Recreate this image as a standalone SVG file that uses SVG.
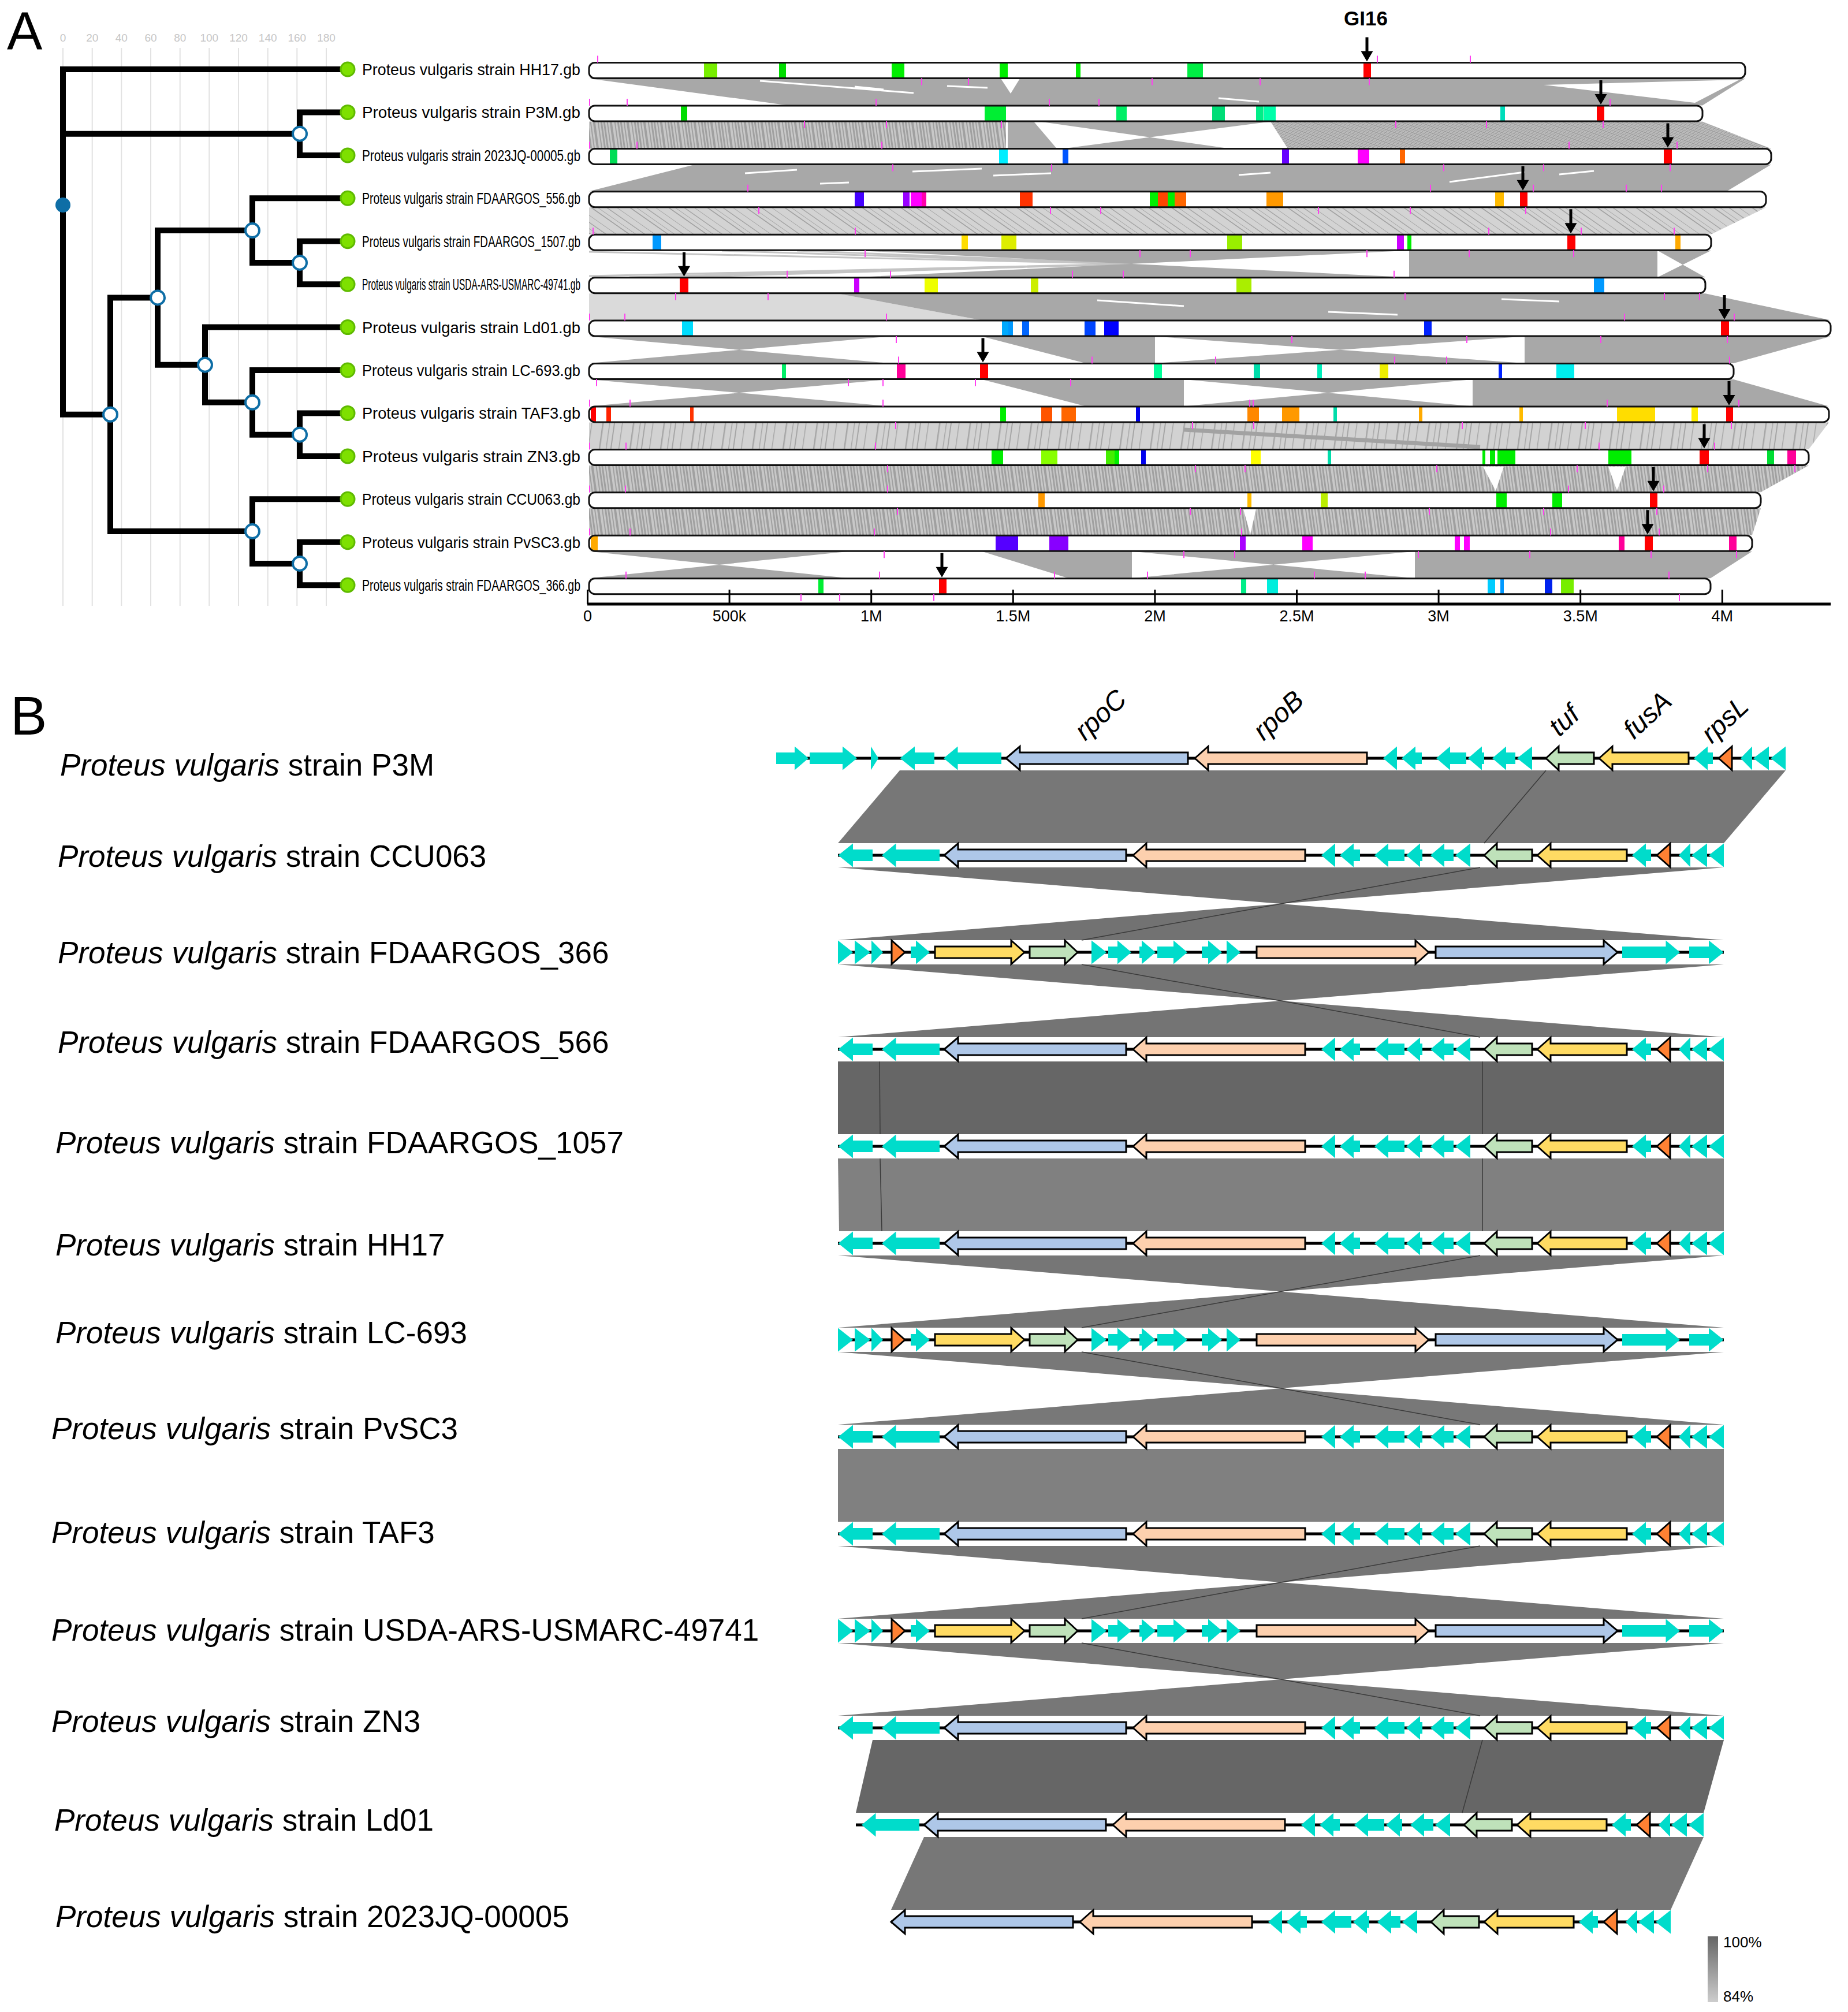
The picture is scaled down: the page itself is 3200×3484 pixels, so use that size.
<svg xmlns="http://www.w3.org/2000/svg" xmlns:xlink="http://www.w3.org/1999/xlink" width="3200" height="3484" viewBox="0 0 3200 3484">
<defs>
<style>
text{font-family:"Liberation Sans",Arial,sans-serif;fill:#000}
.grid{stroke:#e2e2e2;stroke-width:2}
.tl{font-size:19px;fill:#c6c6c6;text-anchor:middle}
.tree{stroke:#000;stroke-width:10;fill:none;stroke-linecap:square}
.inode{fill:#fff;stroke:#0e6ea6;stroke-width:4}
.leaf{fill:#7ee000;stroke:#5fba00;stroke-width:3}
.lab{font-size:28px}
.barf{fill:#fff}
.bars{fill:none;stroke:#111;stroke-width:3}
.mt{stroke:#ff40f0;stroke-width:2;fill:none}
.sd{fill:#a8a8a8}
.sl{fill:#dadada}
.ws{stroke:#fff;stroke-width:3;fill:none}
.ax{font-size:27px;text-anchor:middle}
.bb{stroke:#000;stroke-width:5}
.cy{fill:#00dccb}
.rc{fill:#aec7e8;stroke:#000;stroke-width:3}
.rb{fill:#fdd0ae;stroke:#000;stroke-width:3}
.tf{fill:#bfe2ba;stroke:#000;stroke-width:3}
.fa{fill:#ffdb63;stroke:#000;stroke-width:3}
.rl{fill:#ff8133;stroke:#000;stroke-width:3}
.bl{font-size:53px}
.gl{font-size:47px;font-style:italic}
.il{stroke:#3a3a3a;stroke-width:1.5}
</style>
<pattern id="pv" width="29" height="50" patternUnits="userSpaceOnUse" patternTransform="skewX(8)">
<rect width="29" height="50" fill="#c8c8c8"/>
<rect x="0" width="3" height="50" fill="#a0a0a0"/>
<rect x="6" width="2" height="50" fill="#a0a0a0"/>
<rect x="11" width="4" height="50" fill="#a0a0a0"/>
<rect x="19" width="2" height="50" fill="#a0a0a0"/>
<rect x="24" width="3" height="50" fill="#a0a0a0"/>
</pattern>
<pattern id="pd" width="31" height="50" patternUnits="userSpaceOnUse" patternTransform="skewX(70)">
<rect width="31" height="50" fill="#bcbcbc"/>
<rect x="0" width="3" height="50" fill="#9c9c9c"/>
<rect x="8" width="2" height="50" fill="#9c9c9c"/>
<rect x="15" width="4" height="50" fill="#9c9c9c"/>
<rect x="24" width="2" height="50" fill="#9c9c9c"/>
</pattern>
<pattern id="pl" width="67" height="50" patternUnits="userSpaceOnUse" patternTransform="skewX(55)">
<rect width="67" height="50" fill="#d3d3d3"/>
<rect x="0" width="2.5" height="50" fill="#a4a4a4"/>
<rect x="18" width="1.5" height="50" fill="#a4a4a4"/>
<rect x="40" width="3" height="50" fill="#a4a4a4"/>
<rect x="52" width="1.5" height="50" fill="#a4a4a4"/>
</pattern>
<pattern id="pl2" width="53" height="50" patternUnits="userSpaceOnUse" patternTransform="skewX(-8)">
<rect width="53" height="50" fill="#d2d2d2"/>
<rect x="0" width="2" height="50" fill="#a6a6a6"/>
<rect x="14" width="1.5" height="50" fill="#a6a6a6"/>
<rect x="33" width="2.5" height="50" fill="#a6a6a6"/>
<rect x="45" width="1.5" height="50" fill="#a6a6a6"/>
</pattern>
<linearGradient id="lg" x1="0" y1="0" x2="0" y2="1">
<stop offset="0" stop-color="#666"/>
<stop offset="1" stop-color="#cdcdcd"/>
</linearGradient>
<path id="da" d="M-2.5,0H2.5V24H10.5L0,42L-10.5,24H-2.5Z" fill="#000"/>
<g id="coreA">
<polygon class="rc" points="1635,0 1659,-20.5 1659,-10 1950,-10 1950,10 1659,10 1659,20.5"/>
<polygon class="rb" points="1962,0 1985,-20.5 1985,-10 2260,-10 2260,10 1985,10 1985,20.5"/>
<polygon class="cy" points="2288,0 2312,-20.5 2312,20.5"/>
<polygon class="cy" points="2320,0 2344,-20.5 2344,-10 2355,-10 2355,10 2344,10 2344,20.5"/>
<polygon class="cy" points="2380,0 2404,-20.5 2404,-10 2432,-10 2432,10 2404,10 2404,20.5"/>
<polygon class="cy" points="2435,0 2459,-20.5 2459,-10 2463,-10 2463,10 2459,10 2459,20.5"/>
<polygon class="cy" points="2477,0 2501,-20.5 2501,-10 2517,-10 2517,10 2501,10 2501,20.5"/>
<polygon class="cy" points="2520,0 2546,-20.5 2546,20.5"/>
<polygon class="tf" points="2570,0 2592,-20.5 2592,-10 2653,-10 2653,10 2592,10 2592,20.5"/>
<polygon class="fa" points="2662,0 2685,-20.5 2685,-10 2817,-10 2817,10 2685,10 2685,20.5"/>
<polygon class="cy" points="2826,0 2850,-20.5 2850,-10 2859,-10 2859,10 2850,10 2850,20.5"/>
<polygon class="rl" points="2869,0 2892,-20.5 2892,20.5"/>
<polygon class="cy" points="2907,0 2927,-20.5 2927,20.5"/>
<polygon class="cy" points="2929,0 2956,-20.5 2956,20.5"/>
<polygon class="cy" points="2959,0 2985,-20.5 2985,20.5"/>
</g>
<g id="genesA">
<polygon class="cy" points="1451.5,0 1477,-20.5 1477,-10 1511,-10 1511,10 1477,10 1477,20.5"/>
<polygon class="cy" points="1527,0 1551.5,-20.5 1551.5,-10 1627,-10 1627,10 1551.5,10 1551.5,20.5"/>
<use href="#coreA"/>
</g>
<g id="rowA">
<line class="bb" x1="1451" y1="0" x2="2985" y2="0"/>
<use href="#genesA"/>
</g>
</defs>
<rect width="3200" height="3484" fill="#fff"/>

<!-- Panel A -->
<text x="12" y="86" font-size="92">A</text>
<g id="tree-scale">
<path class="grid" d="M109,83V1049M159.7,83V1049M210.3,83V1049M261,83V1049M311.7,83V1049M362.3,83V1049M413,83V1049M463.7,83V1049M514.3,83V1049M565,83V1049"/>
<text class="tl" x="109" y="72">0</text><text class="tl" x="159.7" y="72">20</text><text class="tl" x="210.3" y="72">40</text><text class="tl" x="261" y="72">60</text><text class="tl" x="311.7" y="72">80</text><text class="tl" x="362.3" y="72">100</text><text class="tl" x="413" y="72">120</text><text class="tl" x="463.7" y="72">140</text><text class="tl" x="514.3" y="72">160</text><text class="tl" x="565" y="72">180</text>
</g>
<g id="tree">
<path class="tree" d="M109,120V717.75M109,120H602M109,231.65H519M109,717.75H191M519,194.4V268.9M519,194.4H602M519,268.9H602M191,515.4V920.1M191,515.4H273M191,920.1H437M273,399.1V631.7M273,399.1H437M273,631.7H355M437,343.3V454.95M437,343.3H602M437,454.95H519M519,417.7V492.2M519,417.7H602M519,492.2H602M355,566.6V696.8M355,566.6H602M355,696.8H437M437,641V752.65M437,641H602M437,752.65H519M519,715.4V789.9M519,715.4H602M519,789.9H602M437,864.3V975.95M437,864.3H602M437,975.95H519M519,938.7V1013.2M519,938.7H602M519,1013.2H602"/>
<circle cx="109" cy="355" r="13" fill="#0e6ea6"/>
<circle class="inode" cx="519" cy="231.65" r="12"/>
<circle class="inode" cx="191" cy="717.75" r="12"/>
<circle class="inode" cx="273" cy="515.4" r="12"/>
<circle class="inode" cx="437" cy="399.1" r="12"/>
<circle class="inode" cx="519" cy="454.95" r="12"/>
<circle class="inode" cx="355" cy="631.7" r="12"/>
<circle class="inode" cx="437" cy="696.8" r="12"/>
<circle class="inode" cx="519" cy="752.65" r="12"/>
<circle class="inode" cx="437" cy="920.1" r="12"/>
<circle class="inode" cx="519" cy="975.95" r="12"/>
</g>
<g id="leaves">
<circle class="leaf" cx="602" cy="120" r="12"/>
<circle class="leaf" cx="602" cy="194.4" r="12"/>
<circle class="leaf" cx="602" cy="268.9" r="12"/>
<circle class="leaf" cx="602" cy="343.3" r="12"/>
<circle class="leaf" cx="602" cy="417.7" r="12"/>
<circle class="leaf" cx="602" cy="492.2" r="12"/>
<circle class="leaf" cx="602" cy="566.6" r="12"/>
<circle class="leaf" cx="602" cy="641" r="12"/>
<circle class="leaf" cx="602" cy="715.4" r="12"/>
<circle class="leaf" cx="602" cy="789.9" r="12"/>
<circle class="leaf" cx="602" cy="864.3" r="12"/>
<circle class="leaf" cx="602" cy="938.7" r="12"/>
<circle class="leaf" cx="602" cy="1013.2" r="12"/>
<text class="lab" x="627" y="130" textLength="378" lengthAdjust="spacingAndGlyphs">Proteus vulgaris strain HH17.gb</text>
<text class="lab" x="627" y="204.4" textLength="378" lengthAdjust="spacingAndGlyphs">Proteus vulgaris strain P3M.gb</text>
<text class="lab" x="627" y="278.9" textLength="378" lengthAdjust="spacingAndGlyphs">Proteus vulgaris strain 2023JQ-00005.gb</text>
<text class="lab" x="627" y="353.3" textLength="378" lengthAdjust="spacingAndGlyphs">Proteus vulgaris strain FDAARGOS_556.gb</text>
<text class="lab" x="627" y="427.7" textLength="378" lengthAdjust="spacingAndGlyphs">Proteus vulgaris strain FDAARGOS_1507.gb</text>
<text class="lab" x="627" y="502.2" textLength="378" lengthAdjust="spacingAndGlyphs">Proteus vulgaris strain USDA-ARS-USMARC-49741.gb</text>
<text class="lab" x="627" y="576.6" textLength="378" lengthAdjust="spacingAndGlyphs">Proteus vulgaris strain Ld01.gb</text>
<text class="lab" x="627" y="651" textLength="378" lengthAdjust="spacingAndGlyphs">Proteus vulgaris strain LC-693.gb</text>
<text class="lab" x="627" y="725.4" textLength="378" lengthAdjust="spacingAndGlyphs">Proteus vulgaris strain TAF3.gb</text>
<text class="lab" x="627" y="799.9" textLength="378" lengthAdjust="spacingAndGlyphs">Proteus vulgaris strain ZN3.gb</text>
<text class="lab" x="627" y="874.3" textLength="378" lengthAdjust="spacingAndGlyphs">Proteus vulgaris strain CCU063.gb</text>
<text class="lab" x="627" y="948.7" textLength="378" lengthAdjust="spacingAndGlyphs">Proteus vulgaris strain PvSC3.gb</text>
<text class="lab" x="627" y="1023.2" textLength="378" lengthAdjust="spacingAndGlyphs">Proteus vulgaris strain FDAARGOS_366.gb</text>
</g>

<g id="synteny">
<polygon class="sd" points="1020,136 3022,136 2948,182.4 1365,182.4"/>
<polygon fill="#fff" points="2673,147 3012,138 2935,178"/>
<polygon fill="#fff" points="1733,136 1766,136 1750,162"/>
<path class="ws" d="M1316,140L1582,161M1640,149L1710,152M2110,170L2180,176M1480,150L1530,155"/>
<polygon fill="url(#pv)" points="1020,210.4 1742,210.4 1742,257.4 1020,257.4"/>
<polygon fill="#ababab" points="1745,210.4 1790,210.4 1830,257.4 1745,257.4"/>
<polygon fill="#ababab" points="1800,210.4 2200,210.4 1840,257.4 2130,257.4"/>
<polygon fill="url(#pd)" points="2200,210.4 2948,210.4 3067,257.4 2230,257.4"/>
<polygon class="sd" points="1203,284.9 3067,284.9 2990,331.3 1020,331.3"/>
<path class="ws" d="M1290,300L1380,294M1580,297L1700,292M1720,304L1820,300M2145,303L2200,299M2510,315L2640,298M2700,302L2760,296M1420,318L1470,316"/>
<polygon fill="url(#pl)" points="1020,359.3 3058,359.3 2963,405.7 1020,405.7"/>
<path stroke="#c4c4c4" stroke-width="3" d="M1020,478L1960,457M1090,480L1960,457M1180,480L1960,457M1250,434L1960,457M1380,434L1960,457M1020,436L1960,457"/>
<polygon class="sd" points="1480,433.7 2440,433.7 1480,480.2 2440,480.2"/>
<polygon class="sd" points="2440,433.7 2870,433.7 2870,480.2 2440,480.2"/>
<polygon class="sd" points="2870,433.7 2963,433.7 2870,480.2 2953,480.2"/>
<polygon class="sl" points="1020,508.2 1450,508.2 1700,554.6 1020,554.6"/>
<polygon class="sd" points="1450,508.2 2953,508.2 3170,554.6 1700,554.6"/>
<path class="ws" d="M1900,520L2050,530M2300,540L2420,545M2600,518L2700,522"/>
<polygon class="sd" points="1020,582.6 1540,582.6 1020,629 1540,629"/>
<polygon class="sd" points="1700,582.6 2000,582.6 2000,629 1880,629"/>
<polygon class="sd" points="2000,582.6 2640,582.6 2000,629 2640,629"/>
<polygon class="sd" points="2640,582.6 3170,582.6 3002,629 2640,629"/>
<polygon class="sd" points="1020,657 1540,657 1020,703.4 1540,703.4"/>
<polygon class="sd" points="1700,657 2050,657 2050,703.4 1880,703.4"/>
<polygon class="sd" points="2050,657 2550,657 2050,703.4 2550,703.4"/>
<polygon class="sd" points="2550,657 3002,657 3167,703.4 2550,703.4"/>
<polygon fill="url(#pl2)" points="1020,731.4 3167,731.4 3132,777.9 1020,777.9"/>
<path stroke="#a2a2a2" stroke-width="7" d="M2050,744L2563,774"/>
<polygon fill="url(#pv)" points="1020,805.9 3132,805.9 3049,852.3 1020,852.3"/>
<polygon fill="#fff" points="2568,808 2604,808 2590,850"/>
<polygon fill="#fff" points="2785,808 2815,808 2800,850"/>
<polygon fill="url(#pv)" points="1020,880.3 3049,880.3 3034,926.7 1020,926.7"/>
<polygon fill="#fff" points="2153,882 2175,882 2165,925"/>
<polygon class="sd" points="1020,954.7 1470,954.7 1020,1001.2 1470,1001.2"/>
<polygon class="sd" points="1700,954.7 1960,954.7 1960,1001.2 1850,1001.2"/>
<polygon class="sd" points="1960,954.7 2450,954.7 1960,1001.2 2450,1001.2"/>
<polygon class="sd" points="2450,954.7 3034,954.7 2962,1001.2 2450,1001.2"/>
</g>

<g id="g-HH17">
<rect class="barf" x="1020" y="108.5" width="2002" height="27" rx="10"/>
<g transform="translate(0,109)"><rect x="1219" width="23" height="26" fill="#77ee00"/><rect x="1349" width="12" height="26" fill="#00dd00"/><rect x="1544" width="22" height="26" fill="#00ee00"/><rect x="1731" width="14" height="26" fill="#00ee00"/><rect x="1863" width="8" height="26" fill="#00ee00"/><rect x="2056" width="27" height="26" fill="#00ee44"/><rect x="2361" width="13" height="26" fill="#ff0000"/></g>
<rect class="bars" x="1020" y="108.5" width="2002" height="27" rx="10"/>
</g>
<g id="g-P3M">
<rect class="barf" x="1020" y="182.9" width="1928" height="27" rx="10"/>
<g transform="translate(0,183.4)"><rect x="1179" width="11" height="26" fill="#00dd00"/><rect x="1705" width="37" height="26" fill="#00ee33"/><rect x="1933" width="18" height="26" fill="#00ee66"/><rect x="2099" width="22" height="26" fill="#00dd77"/><rect x="2175" width="13" height="26" fill="#00ee88"/><rect x="2189" width="20" height="26" fill="#00ffaa"/><rect x="2598" width="8" height="26" fill="#00ddbb"/><rect x="2765" width="13" height="26" fill="#ff0000"/></g>
<rect class="bars" x="1020" y="182.9" width="1928" height="27" rx="10"/>
</g>
<g id="g-2023JQ">
<rect class="barf" x="1020" y="257.4" width="2047" height="27" rx="10"/>
<g transform="translate(0,257.9)"><rect x="1056" width="13" height="26" fill="#00dd55"/><rect x="1730" width="15" height="26" fill="#00eeff"/><rect x="1840" width="10" height="26" fill="#0055ff"/><rect x="2220" width="12" height="26" fill="#6600ff"/><rect x="2351" width="20" height="26" fill="#ff00ff"/><rect x="2424" width="9" height="26" fill="#ff6600"/><rect x="2881" width="14" height="26" fill="#ff0000"/></g>
<rect class="bars" x="1020" y="257.4" width="2047" height="27" rx="10"/>
</g>
<g id="g-556">
<rect class="barf" x="1020" y="331.8" width="2038" height="27" rx="10"/>
<g transform="translate(0,332.3)"><rect x="1480" width="16" height="26" fill="#4400ff"/><rect x="1564" width="11" height="26" fill="#9900ff"/><rect x="1577" width="19" height="26" fill="#ff00ff"/><rect x="1596" width="8" height="26" fill="#ff00aa"/><rect x="1766" width="22" height="26" fill="#ff3300"/><rect x="1991" width="14" height="26" fill="#00ee00"/><rect x="2005" width="17" height="26" fill="#ff4400"/><rect x="2022" width="12" height="26" fill="#00ee00"/><rect x="2034" width="20" height="26" fill="#ff6600"/><rect x="2193" width="29" height="26" fill="#ff9900"/><rect x="2589" width="15" height="26" fill="#ffbb00"/><rect x="2632" width="13" height="26" fill="#ff0000"/></g>
<rect class="bars" x="1020" y="331.8" width="2038" height="27" rx="10"/>
</g>
<g id="g-1507">
<rect class="barf" x="1020" y="406.2" width="1943" height="27" rx="10"/>
<g transform="translate(0,406.7)"><rect x="1130" width="15" height="26" fill="#0099ff"/><rect x="1665" width="11" height="26" fill="#ffdd00"/><rect x="1734" width="26" height="26" fill="#ddee00"/><rect x="2125" width="26" height="26" fill="#99ee00"/><rect x="2419" width="12" height="26" fill="#cc00ff"/><rect x="2437" width="7" height="26" fill="#00ee00"/><rect x="2714" width="14" height="26" fill="#ff0000"/><rect x="2901" width="9" height="26" fill="#ffaa00"/></g>
<rect class="bars" x="1020" y="406.2" width="1943" height="27" rx="10"/>
</g>
<g id="g-USDA">
<rect class="barf" x="1020" y="480.7" width="1933" height="27" rx="10"/>
<g transform="translate(0,481.2)"><rect x="1177" width="15" height="26" fill="#ff0000"/><rect x="1479" width="9" height="26" fill="#cc00ff"/><rect x="1601" width="23" height="26" fill="#eeff00"/><rect x="1785" width="13" height="26" fill="#ccee00"/><rect x="2141" width="26" height="26" fill="#aaee00"/><rect x="2760" width="18" height="26" fill="#0099ff"/></g>
<rect class="bars" x="1020" y="480.7" width="1933" height="27" rx="10"/>
</g>
<g id="g-Ld01">
<rect class="barf" x="1020" y="555.1" width="2150" height="27" rx="10"/>
<g transform="translate(0,555.6)"><rect x="1181" width="19" height="26" fill="#00ddff"/><rect x="1735" width="11" height="26" fill="#00aaff"/><rect x="1746" width="8" height="26" fill="#0099ff"/><rect x="1770" width="12" height="26" fill="#0066ff"/><rect x="1878" width="19" height="26" fill="#0044ff"/><rect x="1912" width="25" height="26" fill="#0000ff"/><rect x="2466" width="13" height="26" fill="#0022ff"/><rect x="2980" width="14" height="26" fill="#ff0000"/></g>
<rect class="bars" x="1020" y="555.1" width="2150" height="27" rx="10"/>
</g>
<g id="g-LC693">
<rect class="barf" x="1020" y="629.5" width="1982" height="27" rx="10"/>
<g transform="translate(0,630)"><rect x="1354" width="7" height="26" fill="#00ee66"/><rect x="1553" width="15" height="26" fill="#ff0099"/><rect x="1697" width="14" height="26" fill="#ff0000"/><rect x="1998" width="14" height="26" fill="#00ff99"/><rect x="2171" width="11" height="26" fill="#00ddaa"/><rect x="2281" width="8" height="26" fill="#00eebb"/><rect x="2389" width="15" height="26" fill="#eeee00"/><rect x="2595" width="6" height="26" fill="#0022ff"/><rect x="2695" width="31" height="26" fill="#00eeee"/></g>
<rect class="bars" x="1020" y="629.5" width="1982" height="27" rx="10"/>
</g>
<g id="g-TAF3">
<rect class="barf" x="1020" y="703.9" width="2147" height="27" rx="10"/>
<g transform="translate(0,704.4)"><rect x="1023" width="9" height="26" fill="#ff0000"/><rect x="1050" width="8" height="26" fill="#ff2200"/><rect x="1195" width="6" height="26" fill="#ff3300"/><rect x="1732" width="10" height="26" fill="#00ee00"/><rect x="1803" width="19" height="26" fill="#ff5500"/><rect x="1838" width="25" height="26" fill="#ff6600"/><rect x="1967" width="7" height="26" fill="#0000ee"/><rect x="2160" width="20" height="26" fill="#ff8800"/><rect x="2220" width="30" height="26" fill="#ff9900"/><rect x="2309" width="6" height="26" fill="#00ddaa"/><rect x="2457" width="6" height="26" fill="#ffaa00"/><rect x="2631" width="6" height="26" fill="#ffbb00"/><rect x="2800" width="66" height="26" fill="#ffdd00"/><rect x="2929" width="11" height="26" fill="#ffee00"/><rect x="2989" width="12" height="26" fill="#ff0000"/></g>
<rect class="bars" x="1020" y="703.9" width="2147" height="27" rx="10"/>
</g>
<g id="g-ZN3">
<rect class="barf" x="1020" y="778.4" width="2112" height="27" rx="10"/>
<g transform="translate(0,778.9)"><rect x="1717" width="20" height="26" fill="#00ee00"/><rect x="1803" width="28" height="26" fill="#88ff00"/><rect x="1915" width="15" height="26" fill="#44ee00"/><rect x="1930" width="8" height="26" fill="#00ee00"/><rect x="1976" width="8" height="26" fill="#0000ee"/><rect x="2166" width="17" height="26" fill="#ffff00"/><rect x="2299" width="6" height="26" fill="#00ddaa"/><rect x="2567" width="5" height="26" fill="#00ee00"/><rect x="2580" width="9" height="26" fill="#00ee00"/><rect x="2593" width="31" height="26" fill="#00ee00"/><rect x="2785" width="40" height="26" fill="#00ee00"/><rect x="2943" width="16" height="26" fill="#ff0000"/><rect x="3060" width="12" height="26" fill="#00dd33"/><rect x="3095" width="15" height="26" fill="#ff0099"/></g>
<rect class="bars" x="1020" y="778.4" width="2112" height="27" rx="10"/>
</g>
<g id="g-CCU063">
<rect class="barf" x="1020" y="852.8" width="2029" height="27" rx="10"/>
<g transform="translate(0,853.3)"><rect x="1798" width="11" height="26" fill="#ff9900"/><rect x="2160" width="7" height="26" fill="#ffbb00"/><rect x="2287" width="12" height="26" fill="#bbee00"/><rect x="2591" width="18" height="26" fill="#00ee00"/><rect x="2688" width="17" height="26" fill="#00ee00"/><rect x="2857" width="13" height="26" fill="#ff0000"/></g>
<rect class="bars" x="1020" y="852.8" width="2029" height="27" rx="10"/>
</g>
<g id="g-PvSC3">
<rect class="barf" x="1020" y="927.2" width="2014" height="27" rx="10"/>
<g transform="translate(0,927.7)"><rect x="1023" width="12" height="26" fill="#ffaa00"/><rect x="1724" width="39" height="26" fill="#5500ff"/><rect x="1817" width="33" height="26" fill="#8800ff"/><rect x="2147" width="10" height="26" fill="#aa00ff"/><rect x="2255" width="18" height="26" fill="#ff00ff"/><rect x="2519" width="9" height="26" fill="#ff00ff"/><rect x="2535" width="10" height="26" fill="#ff00ff"/><rect x="2803" width="10" height="26" fill="#ff0099"/><rect x="2848" width="14" height="26" fill="#ff0000"/><rect x="2994" width="13" height="26" fill="#ff0099"/></g>
<rect class="bars" x="1020" y="927.2" width="2014" height="27" rx="10"/>
</g>
<g id="g-366">
<rect class="barf" x="1020" y="1001.7" width="1942" height="27" rx="10"/>
<g transform="translate(0,1002.2)"><rect x="1417" width="9" height="26" fill="#00ee33"/><rect x="1626" width="13" height="26" fill="#ff0000"/><rect x="2149" width="9" height="26" fill="#00ee88"/><rect x="2194" width="19" height="26" fill="#00eedd"/><rect x="2576" width="13" height="26" fill="#00ccff"/><rect x="2598" width="6" height="26" fill="#0099ff"/><rect x="2675" width="13" height="26" fill="#0022ee"/><rect x="2703" width="22" height="26" fill="#77ee00"/></g>
<rect class="bars" x="1020" y="1001.7" width="1942" height="27" rx="10"/>
</g>

<g id="marks">
<path class="mt" d="M1035,96.5v12M2385,96.5v12M2546,96.5v12M1596,135.5v12M1677,135.5v12M1995,135.5v12M2182,135.5v12M2371,135.5v12
M1021,170.9v12M1086,170.9v12M1517,170.9v12M1817,170.9v12M1903,170.9v12M2788,170.9v12M1393,209.9v12M1535,209.9v12M1734,209.9v12M2417,209.9v12M2574,209.9v12M2776,209.9v12
M1021,245.4v12M1103,245.4v12M1527,245.4v12M2717,245.4v12M2904,245.4v12M1546,284.4v12M1821,284.4v12M2500,284.4v12M2673,284.4v12M2892,284.4v12
M1295,319.8v12M2477,319.8v12M2655,319.8v12M2816,319.8v12M2877,319.8v12M1314,358.8v12M1819,358.8v12M1906,358.8v12M2283,358.8v12M2442,358.8v12M2642,358.8v12
M1027,394.2v12M1481,394.2v12M2578,394.2v12M2738,394.2v12M2899,394.2v12M1498,433.2v12M1974,433.2v12M2061,433.2v12M2367,433.2v12M2544,433.2v12M2725,433.2v12
M1363,468.7v12M1542,468.7v12M1857,468.7v12M1945,468.7v12M2414,468.7v12M1170,507.7v12M1330,507.7v12M2433,507.7v12M2882,507.7v12M2943,507.7v12
M1021,543.1v12M1082,543.1v12M1535,543.1v12M2813,543.1v12M3003,543.1v12M1552,582.1v12M2237,582.1v12M2540,582.1v12M2772,582.1v12M2991,582.1v12
M1556,617.5v12M1891,617.5v12M2105,617.5v12M2415,617.5v12M2505,617.5v12M2995,617.5v12M1033,656.5v12M1469,656.5v12M1529,656.5v12M1689,656.5v12M1854,656.5v12
M1021,691.9v12M1091,691.9v12M1529,691.9v12M2164,691.9v12M2170,691.9v12M2783,691.9v12M3011,691.9v12M1551,730.9v12M2065,730.9v12M2171,730.9v12M2532,730.9v12M2745,730.9v12M2998,730.9v12
M1021,766.4v12M1084,766.4v12M1516,766.4v12M2769,766.4v12M2969,766.4v12M1537,805.4v12M2070,805.4v12M2156,805.4v12M2488,805.4v12M2731,805.4v12M2957,805.4v12M3108,805.4v12
M1021,840.8v12M1083,840.8v12M1537,840.8v12M2716,840.8v12M2881,840.8v12M1554,879.8v12M2061,879.8v12M2148,879.8v12M2475,879.8v12M2673,879.8v12M2869,879.8v12
M1021,915.2v12M1091,915.2v12M1514,915.2v12M2150,915.2v12M2685,915.2v12M2873,915.2v12M1531,954.2v12M2050,954.2v12M2138,954.2v12M2456,954.2v12M2649,954.2v12M2859,954.2v12M3007,954.2v12
M1084,989.7v12M1523,989.7v12M1826,989.7v12M1987,989.7v12M2276,989.7v12M2364,989.7v12M2890,989.7v12M1387,1028.7v12M1454,1028.7v12M1617,1028.7v12M2908,1028.7v12"/>
</g>

<g id="gi-arrows">
<text x="2365" y="44" font-size="35" font-weight="bold" text-anchor="middle">GI16</text>
<use href="#da" x="2367" y="64.5"/>
<use href="#da" x="2772" y="139"/>
<use href="#da" x="2888" y="213.4"/>
<use href="#da" x="2637" y="287.8"/>
<use href="#da" x="2720" y="362.2"/>
<use href="#da" x="1184.5" y="436.7"/>
<use href="#da" x="2986" y="511"/>
<use href="#da" x="1702" y="585.5"/>
<use href="#da" x="2994" y="659.9"/>
<use href="#da" x="2951" y="734.4"/>
<use href="#da" x="2863" y="808.8"/>
<use href="#da" x="2853" y="883.2"/>
<use href="#da" x="1631" y="957.7"/>
</g>

<g id="axis">
<line x1="1017" y1="1046" x2="3170" y2="1046" stroke="#000" stroke-width="5"/>
<path stroke="#000" stroke-width="3" d="M1017.5,1021V1046M1263.1,1021V1046M1508.7,1021V1046M1754.3,1021V1046M1999.9,1021V1046M2245.5,1021V1046M2491.1,1021V1046M2736.7,1021V1046M2982.3,1021V1046"/>
<text class="ax" x="1017.5" y="1076">0</text><text class="ax" x="1263.1" y="1076">500k</text><text class="ax" x="1508.7" y="1076">1M</text><text class="ax" x="1754.3" y="1076">1.5M</text><text class="ax" x="1999.9" y="1076">2M</text><text class="ax" x="2245.5" y="1076">2.5M</text><text class="ax" x="2491.1" y="1076">3M</text><text class="ax" x="2736.7" y="1076">3.5M</text><text class="ax" x="2982.3" y="1076">4M</text>
</g>

<!-- Panel B -->
<text x="18" y="1272" font-size="95">B</text>

<g id="bands">
<polygon fill="#777" points="1558,1334 3092,1334 2985,1460 1451,1460"/>
<line class="il" x1="2677" y1="1334" x2="2570" y2="1460"/>
<polygon fill="#727272" points="1451,1502 2985,1502 1451,1628 2985,1628"/>
<line class="il" x1="2563" y1="1502" x2="1873" y2="1628"/>
<polygon fill="#747474" points="1451,1670 2985,1670 1451,1796 2985,1796"/>
<line class="il" x1="1873" y1="1670" x2="2563" y2="1796"/>
<polygon fill="#666" points="1451,1838 2985,1838 2985,1964 1451,1964"/>
<path class="il" d="M1523,1838L1524,1964M2567,1838L2567,1964"/>
<polygon fill="#808080" points="1451,2006 2985,2006 2985,2132 1453,2132"/>
<path class="il" d="M1524,2006L1527,2132M2567,2006L2567,2132"/>
<polygon fill="#767676" points="1451,2174 2985,2174 1451,2299 2985,2299"/>
<line class="il" x1="2563" y1="2174" x2="1873" y2="2299"/>
<polygon fill="#787878" points="1451,2341 2985,2341 1451,2467 2985,2467"/>
<line class="il" x1="1873" y1="2341" x2="2563" y2="2467"/>
<polygon fill="#808080" points="1451,2509 2985,2509 2985,2635 1451,2635"/>
<polygon fill="#757575" points="1451,2677 2985,2677 1451,2803 2985,2803"/>
<line class="il" x1="2563" y1="2677" x2="1873" y2="2803"/>
<polygon fill="#777" points="1451,2845 2985,2845 1451,2971 2985,2971"/>
<line class="il" x1="1873" y1="2845" x2="2563" y2="2971"/>
<polygon fill="#666" points="1511,3013 2985,3013 2950,3139 1482,3139"/>
<line class="il" x1="2567" y1="3013" x2="2532" y2="3139"/>
<polygon fill="#777" points="1600,3181 2950,3181 2893,3307 1543,3307"/>
</g>

<g id="b-P3M" transform="translate(0,1313)">
<line class="bb" x1="1344" y1="0" x2="3092" y2="0"/>
<polygon class="cy" points="1344,-10 1376,-10 1376,-20.5 1400,0 1376,20.5 1376,10 1344,10"/>
<polygon class="cy" points="1402,-10 1459,-10 1459,-20.5 1484,0 1459,20.5 1459,10 1402,10"/>
<polygon class="cy" points="1508,-20.5 1521,0 1508,20.5"/>
<use href="#genesA" x="107"/>
</g>
<g id="b-CCU063"><use href="#rowA" y="1481"/></g>
<g id="b-366"><use href="#rowA" transform="translate(4436,1649) scale(-1,1)"/></g>
<g id="b-566"><use href="#rowA" y="1817"/></g>
<g id="b-1057"><use href="#rowA" y="1985"/></g>
<g id="b-HH17"><use href="#rowA" y="2153"/></g>
<g id="b-LC693"><use href="#rowA" transform="translate(4436,2320) scale(-1,1)"/></g>
<g id="b-PvSC3"><use href="#rowA" y="2488"/></g>
<g id="b-TAF3"><use href="#rowA" y="2656"/></g>
<g id="b-USDA"><use href="#rowA" transform="translate(4436,2824) scale(-1,1)"/></g>
<g id="b-ZN3"><use href="#rowA" y="2992"/></g>
<g id="b-Ld01" transform="translate(0,3160)">
<line class="bb" x1="1482" y1="0" x2="2950" y2="0"/>
<polygon class="cy" points="1492,0 1516.5,-20.5 1516.5,-10 1592,-10 1592,10 1516.5,10 1516.5,20.5"/>
<use href="#coreA" x="-35"/>
</g>
<g id="b-2023JQ" transform="translate(0,3328)">
<line class="bb" x1="1543" y1="0" x2="2893" y2="0"/>
<use href="#coreA" x="-92"/>
</g>

<g id="gene-labels">
<text class="gl" transform="translate(1879,1284) rotate(-43)">rpoC</text>
<text class="gl" transform="translate(2188,1284) rotate(-43)">rpoB</text>
<text class="gl" transform="translate(2700,1277) rotate(-43)">tuf</text>
<text class="gl" transform="translate(2829,1282) rotate(-43)">fusA</text>
<text class="gl" transform="translate(2964,1289) rotate(-43)">rpsL</text>
</g>

<g id="b-labels">
<text class="bl" x="104" y="1343"><tspan font-style="italic">Proteus vulgaris</tspan> strain P3M</text>
<text class="bl" x="100" y="1501"><tspan font-style="italic">Proteus vulgaris</tspan> strain CCU063</text>
<text class="bl" x="100" y="1668"><tspan font-style="italic">Proteus vulgaris</tspan> strain FDAARGOS_366</text>
<text class="bl" x="100" y="1823"><tspan font-style="italic">Proteus vulgaris</tspan> strain FDAARGOS_566</text>
<text class="bl" x="96" y="1997"><tspan font-style="italic">Proteus vulgaris</tspan> strain FDAARGOS_1057</text>
<text class="bl" x="96" y="2174"><tspan font-style="italic">Proteus vulgaris</tspan> strain HH17</text>
<text class="bl" x="96" y="2326"><tspan font-style="italic">Proteus vulgaris</tspan> strain LC-693</text>
<text class="bl" x="89" y="2492"><tspan font-style="italic">Proteus vulgaris</tspan> strain PvSC3</text>
<text class="bl" x="89" y="2672"><tspan font-style="italic">Proteus vulgaris</tspan> strain TAF3</text>
<text class="bl" x="89" y="2841"><tspan font-style="italic">Proteus vulgaris</tspan> strain USDA-ARS-USMARC-49741</text>
<text class="bl" x="89" y="2999"><tspan font-style="italic">Proteus vulgaris</tspan> strain ZN3</text>
<text class="bl" x="94" y="3170"><tspan font-style="italic">Proteus vulgaris</tspan> strain Ld01</text>
<text class="bl" x="96" y="3337"><tspan font-style="italic">Proteus vulgaris</tspan> strain 2023JQ-00005</text>
</g>

<g id="legend">
<rect x="2957" y="3353" width="18" height="114" fill="url(#lg)"/>
<text x="2984" y="3372" font-size="26">100%</text>
<text x="2984" y="3466" font-size="26">84%</text>
</g>
</svg>
